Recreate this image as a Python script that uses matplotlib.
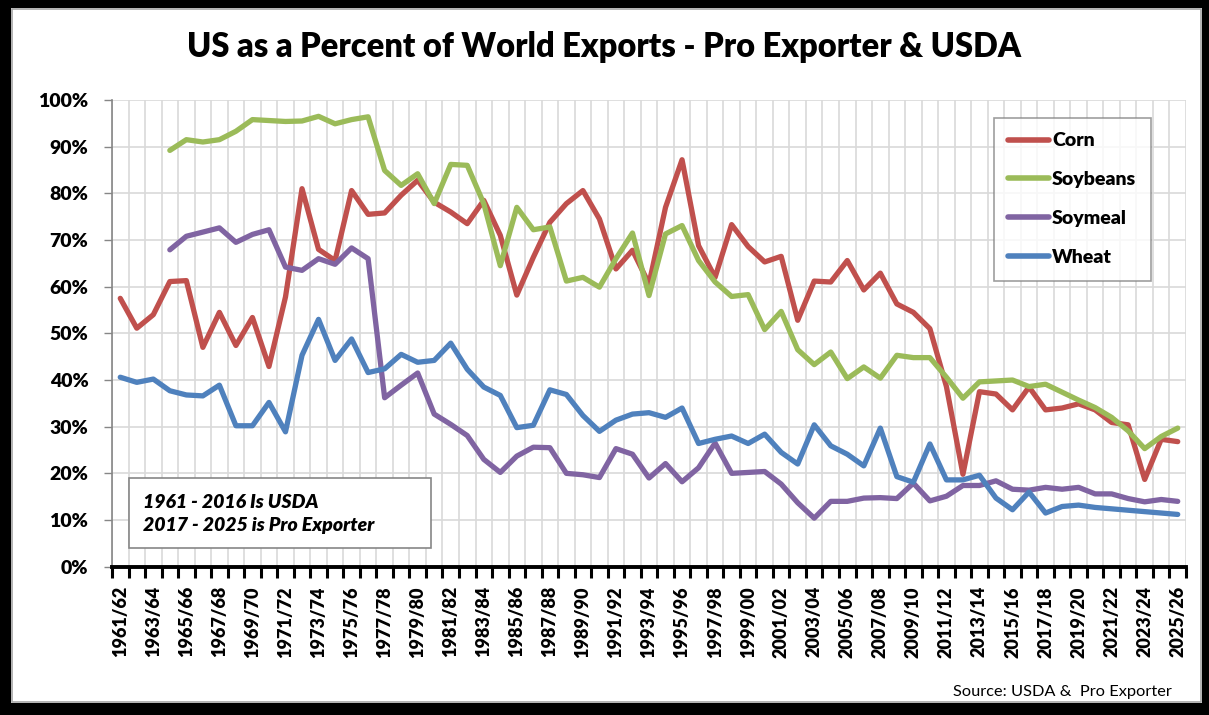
import matplotlib
matplotlib.use("Agg")
import matplotlib.pyplot as plt
from matplotlib.patches import Rectangle
from matplotlib.ticker import FuncFormatter, MultipleLocator
import numpy as np

plt.rcParams['font.family'] = ['Lato', 'DejaVu Sans']

years = list(range(1961, 2026))
categories = [f"{y}/{(y + 1) % 100:02d}" for y in years]

corn = [57.5, 51.1, 54.0, 61.1, 61.3, 47.0, 54.5, 47.4, 53.4, 42.9,
        57.8, 81.0, 68.0, 65.6, 80.6, 75.5, 75.8, 79.6, 82.8, 78.1,
        76.0, 73.5, 78.5, 71.0, 58.2, 66.3, 73.8, 77.8, 80.6, 74.5,
        63.8, 67.8, 60.6, 77.0, 87.2, 68.8, 62.0, 73.3, 68.6, 65.3,
        66.5, 52.8, 61.2, 61.0, 65.6, 59.3, 62.9, 56.3, 54.5, 51.0,
        38.6, 19.8, 37.5, 37.0, 33.6, 38.5, 33.6, 34.0, 34.9, 33.6,
        30.9, 30.4, 18.7, 27.3, 26.8]

soybeans = [None, None, None, 89.2, 91.5, 91.0, 91.5, 93.3, 95.8, 95.6,
            95.4, 95.5, 96.5, 94.9, 95.8, 96.4, 84.9, 81.7, 84.2, 77.8,
            86.2, 86.0, 77.8, 64.5, 77.0, 72.2, 72.8, 61.2, 62.0, 59.9,
            66.0, 71.5, 58.1, 71.3, 73.1, 65.6, 61.0, 57.9, 58.3, 50.8,
            54.7, 46.5, 43.3, 46.0, 40.3, 42.8, 40.4, 45.3, 44.8, 44.8,
            40.6, 36.1, 39.6, 39.8, 40.0, 38.6, 39.1, 37.4, 35.7, 34.1,
            32.0, 29.1, 25.3, 27.9, 29.7]

soymeal = [None, None, None, 67.9, 70.8, 71.7, 72.6, 69.5, 71.2, 72.2,
           64.2, 63.5, 66.0, 64.8, 68.3, 66.0, 36.2, 38.9, 41.5, 32.7,
           30.5, 28.1, 23.0, 20.2, 23.7, 25.6, 25.5, 20.0, 19.7, 19.1,
           25.3, 24.1, 19.0, 22.1, 18.2, 21.2, 26.5, 20.0, 20.2, 20.4,
           17.7, 13.7, 10.4, 14.0, 14.0, 14.7, 14.8, 14.6, 17.9, 14.1,
           15.1, 17.4, 17.4, 18.4, 16.6, 16.4, 17.0, 16.6, 17.0, 15.6,
           15.6, 14.6, 13.9, 14.4, 14.0]

wheat = [40.6, 39.5, 40.2, 37.7, 36.8, 36.6, 38.9, 30.2, 30.2, 35.2,
         28.9, 45.3, 53.0, 44.2, 48.8, 41.6, 42.4, 45.5, 43.8, 44.2,
         47.9, 42.3, 38.5, 36.7, 29.8, 30.3, 37.9, 36.9, 32.4, 29.0,
         31.4, 32.7, 33.0, 32.0, 34.0, 26.4, 27.3, 28.0, 26.4, 28.4,
         24.5, 22.0, 30.4, 25.9, 24.1, 21.6, 29.7, 19.3, 18.1, 26.3,
         18.6, 18.6, 19.6, 14.7, 12.2, 16.0, 11.5, 12.9, 13.2, 12.7,
         12.4, 12.1, 11.8, 11.5, 11.2]

series_names = ["Corn", "Soybeans", "Soymeal", "Wheat"]
series_colors = ["#c0504d", "#9bbb59", "#8064a2", "#4f81bd"]
series_values = [corn, soybeans, soymeal, wheat]

W, H = 1209, 715
fig = plt.figure(figsize=(W / 100, H / 100), dpi=100)
fig.patch.set_facecolor("white")

ax_l, ax_r, ax_t, ax_b = 112, 1186, 100, 566.7
ax = fig.add_axes([ax_l / W, 1 - ax_b / H, (ax_r - ax_l) / W, (ax_b - ax_t) / H])

x = np.arange(len(categories))
for name, col, vals in zip(series_names, series_colors, series_values):
    v = np.array([np.nan if val is None else val / 100.0 for val in vals], dtype=float)
    ax.plot(x, v, color=col, lw=3.8, label=name, solid_capstyle="round",
            solid_joinstyle="round", zorder=3)

ax.set_xlim(-0.5, len(categories) - 0.5)
ax.set_ylim(0, 1.0)

BOLD = "heavy"

# y axis
ax.yaxis.set_major_locator(MultipleLocator(0.1))
ax.yaxis.set_major_formatter(FuncFormatter(lambda v, p: f"{v * 100:.0f}%"))
ax.tick_params(axis="y", which="major", length=6, width=1, color="#868686",
               pad=11, labelsize=14)
for lab in ax.get_yticklabels():
    lab.set_fontweight(BOLD)

# x axis: labels at every other category, ticks at boundaries
ax.set_xticks(x[::2])
ax.set_xticklabels(categories[::2], rotation=90, fontsize=13, fontweight=BOLD)
ax.set_xticks(np.arange(-0.5, len(categories), 1.0), minor=True)
ax.tick_params(axis="x", which="major", length=0, pad=14)
ax.tick_params(axis="x", which="minor", length=8, width=2.2, color="black")

ax.grid(axis="y", which="major", color="#d9d9d9", lw=1.2, zorder=0)
ax.grid(axis="x", which="minor", color="#d9d9d9", lw=1.2, zorder=0)
ax.grid(axis="x", which="major", visible=False)
ax.set_axisbelow(True)

for s in ["top", "right"]:
    ax.spines[s].set_visible(False)
ax.spines["left"].set_color("#868686")
ax.spines["left"].set_linewidth(1.2)
ax.spines["bottom"].set_color("black")
ax.spines["bottom"].set_linewidth(2.8)
ax.spines["bottom"].set_zorder(5)

# legend
leg = ax.legend(loc="upper left", bbox_to_anchor=(0.821, 0.962), frameon=True,
                fancybox=False, edgecolor="#868686",
                prop={"weight": BOLD, "size": 14}, handlelength=2.1,
                handletextpad=0.15, labelspacing=1.13, borderpad=0.75,
                borderaxespad=0)
leg.get_frame().set_linewidth(1.2)
for h in leg.get_lines():
    h.set_linewidth(4)

# note box
bx0, bx1, by0, by1 = 129, 431, 478, 548
ax.add_patch(Rectangle(((bx0 - ax_l) / (ax_r - ax_l), (ax_b - by1) / (ax_b - ax_t)),
                       (bx1 - bx0) / (ax_r - ax_l), (by1 - by0) / (ax_b - ax_t),
                       transform=ax.transAxes, facecolor="white", edgecolor="#868686",
                       lw=1.2, zorder=6))
for txt, yy in [("1961 - 2016 Is USDA", 502), ("2017 - 2025 is Pro Exporter", 526)]:
    ax.text((143 - ax_l) / (ax_r - ax_l), (ax_b - yy) / (ax_b - ax_t), txt,
            transform=ax.transAxes, fontsize=14, fontweight=BOLD, fontstyle="italic",
            va="center", ha="left", zorder=7)

# title and source
fig.text(0.5, 1 - 47 / H, "US as a Percent of World Exports - Pro Exporter & USDA",
         ha="center", va="center", fontsize=23.5, fontweight=BOLD)
fig.text(1172 / W, 1 - 692 / H, "Source: USDA &  Pro Exporter", ha="right",
         va="center", fontsize=11.8)

# frame
for (x0, y0, w, h) in [(0, 0, 11, H), (0, 0, W, 8), (W - 7, 0, 7, H), (0, H - 12, W, 12)]:
    fig.add_artist(Rectangle((x0 / W, 1 - (y0 + h) / H), w / W, h / H,
                             transform=fig.transFigure, facecolor="black",
                             edgecolor="none", zorder=10))
fig.add_artist(Rectangle((12 / W, 13 / H), (W - 20) / W, (H - 22) / H,
                         transform=fig.transFigure, facecolor="none",
                         edgecolor="#a6a6a6", lw=1.2, zorder=10))

fig.savefig("out.png", dpi=100)
